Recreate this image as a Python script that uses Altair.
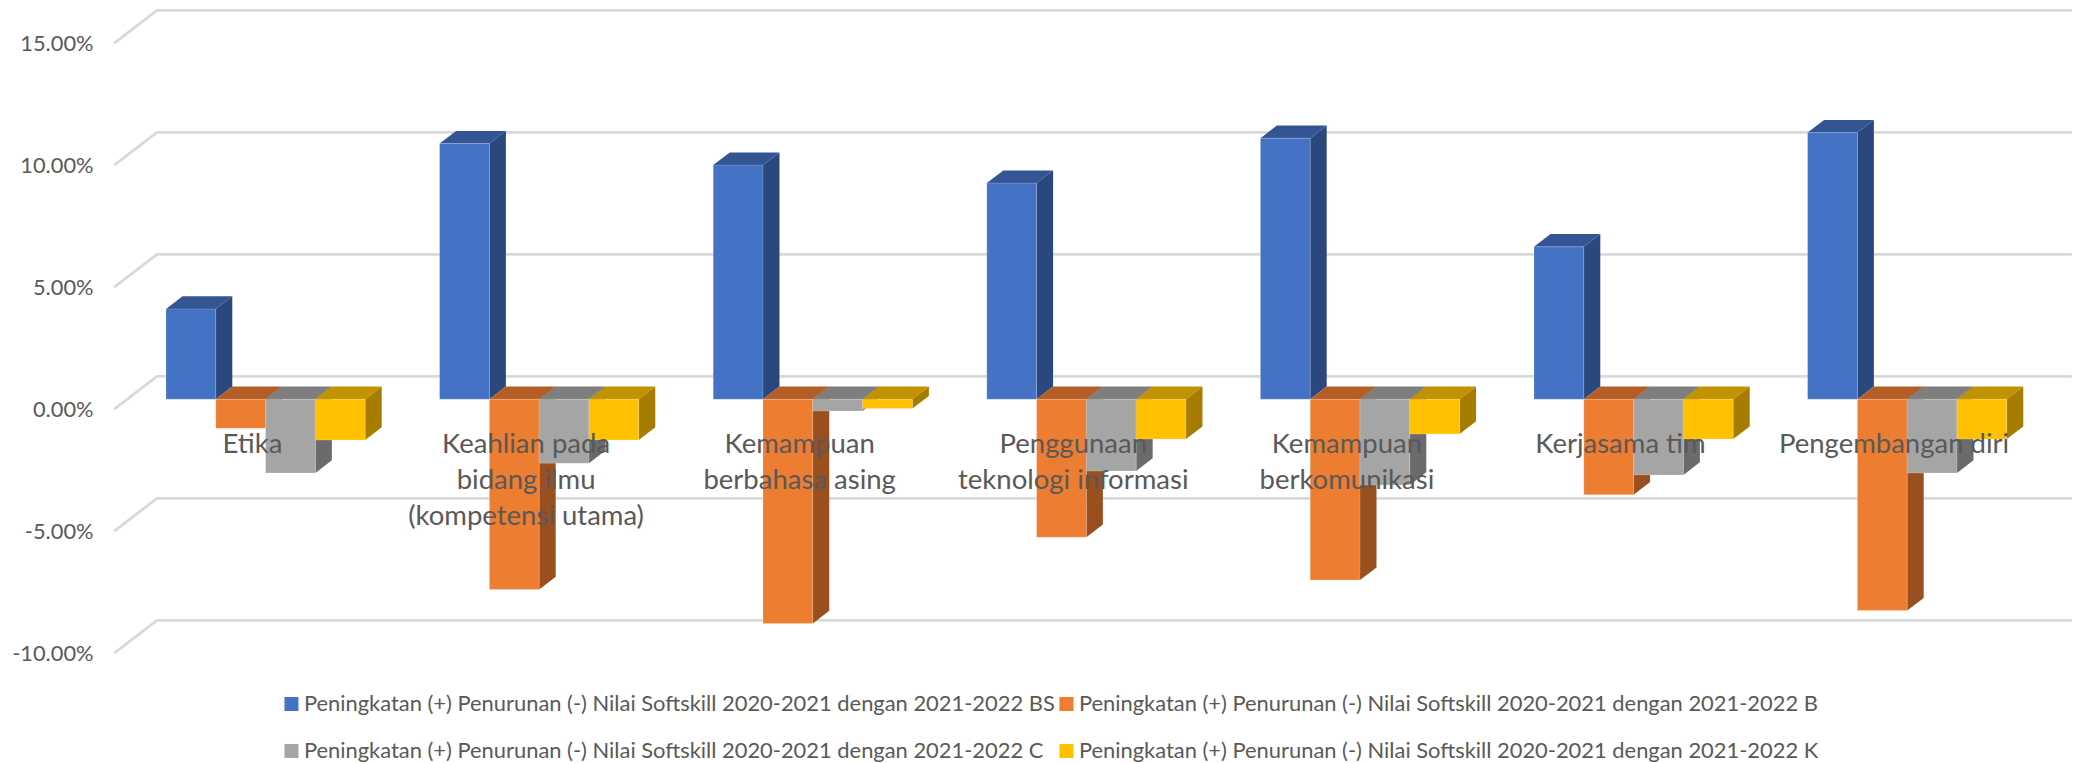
import altair as alt
import pandas as pd

categories = ["Etika", "Keahlian pada\nbidang ilmu\n(kompetensi utama)", "Kemampuan\nberbahasa asing",
              "Penggunaan\nteknologi informasi", "Kemampuan\nberkomunikasi", "Kerjasama tim", "Pengembangan diri"]
prefix = "Peningkatan (+) Penurunan (-) Nilai Softskill 2020-2021 dengan 2021-2022 "
series = [prefix + s for s in ["BS", "B", "C", "K"]]
bs = [0.0370, 0.1048, 0.0960, 0.0886, 0.1070, 0.0625, 0.1093]
b = [-0.0119, -0.0779, -0.0919, -0.0565, -0.0741, -0.0391, -0.0866]
c = [-0.0302, -0.0262, -0.0048, -0.0294, -0.0351, -0.0310, -0.0302]
k = [-0.0167, -0.0167, -0.0038, -0.0163, -0.0142, -0.0163, -0.0163]
values = [bs, b, c, k]
ticks = [-0.10, -0.05, 0.0, 0.05, 0.10, 0.15]

front_colors = ["#4472C4", "#ED7D31", "#A5A5A5", "#FFC000"]
top_colors = ["#335593", "#B55D26", "#7E7E7E", "#C39200"]
side_colors = ["#2B487E", "#9A4F1E", "#6B6B6B", "#A67D00"]

FONT = "Lato"
TXT = "#595959"
BW = 0.182    # bar width in group units
DX = 0.0603   # 3-D depth, x
DY = 0.0052   # 3-D depth, y

xs = alt.Scale(domain=[-0.24854, 6.96637], nice=False, zero=False)
ys = alt.Scale(domain=[-0.10684, 0.16037], nice=False, zero=False)

fronts, sides, tops = [], [], []
for si, name in enumerate(series):
    for gi, v in enumerate(values[si]):
        l = gi + si * BW
        r = l + BW
        hi = max(v, 0)
        fid = f"{gi}-{si}"
        fronts.append(dict(series=name, x=l, x2=r, y=v, y2=0.0))
        sides += [dict(id=fid, series=name, x=r, y=v, y2=0.0),
                  dict(id=fid, series=name, x=r + DX, y=v + DY, y2=DY)]
        tops += [dict(id=fid, series=name, x=l, y=hi, y2=hi),
                 dict(id=fid, series=name, x=l + DX, y=hi, y2=hi + DY),
                 dict(id=fid, series=name, x=r, y=hi, y2=hi + DY),
                 dict(id=fid, series=name, x=r + DX, y=hi + DY, y2=hi + DY)]

grid = []
for t in ticks:
    grid += [dict(t=t, x=-0.189, y=t - 0.00398),
             dict(t=t, x=-0.0329, y=t + 0.00939),
             dict(t=t, x=6.966, y=t + 0.00939)]

labels = pd.DataFrame(dict(label=categories, x=[0.316 + i for i in range(len(categories))],
                           y=[-0.022] * len(categories)))

y_axis = alt.Axis(
    title=None, values=ticks, domain=False, ticks=False, grid=False, labelPadding=5,
    labelExpr="replace(format(datum.value, '.2%'), '\u2212', '-')",
    labelFont=FONT, labelFontSize=21.8, labelColor=TXT, labelOffset=9.7)

X = lambda f="x": alt.X(f"{f}:Q", scale=xs, axis=None)
Y = lambda: alt.Y("y:Q", scale=ys, axis=y_axis)

grid_layer = alt.Chart(pd.DataFrame(grid)).mark_line(color="#d9d9d9", strokeWidth=2.8).encode(
    x=X(), y=Y(), detail="t:N")

def faces(rows, colors):
    return alt.Chart(pd.DataFrame(rows)).mark_area(interpolate="linear").encode(
        x=X(), y=Y(), y2="y2:Q", detail="id:N",
        color=alt.Color("series:N", scale=alt.Scale(domain=series, range=colors), legend=None))

side_layer = faces(sides, side_colors)
top_layer = faces(tops, top_colors)

front_layer = alt.Chart(pd.DataFrame(fronts)).mark_rect(
    stroke="white", strokeOpacity=0.2, strokeWidth=1).encode(
    x=X(), x2="x2:Q", y=Y(), y2="y2:Q",
    color=alt.Color("series:N", scale=alt.Scale(domain=series, range=front_colors), sort=series,
                    legend=alt.Legend(title=None, orient="none", legendX=182.5, legendY=685, columns=2,
                                      direction="horizontal",
                                      symbolType="square", symbolSize=196, symbolStrokeWidth=0,
                                      labelFont=FONT, labelFontSize=21.9, labelColor=TXT, labelLimit=1200,
                                      labelOffset=1.5, columnPadding=0, rowPadding=24)))

label_layer = alt.Chart(labels).mark_text(
    font=FONT, fontSize=27.5, color=TXT, lineBreak="\n", lineHeight=36, align="center", baseline="alphabetic"
).encode(x=X(), y=Y(), text="label:N")

chart = alt.layer(grid_layer, side_layer, top_layer, front_layer, label_layer).resolve_scale(
    color="independent"
).properties(
    width=1974, height=652,
    autosize=alt.AutoSizeParams(type="none"),
    padding={"left": 90, "top": 0, "right": 0, "bottom": 102},
    background="white",
).configure_view(stroke=None)

chart.save("out.html", embed_options={"renderer": "svg", "actions": False})
